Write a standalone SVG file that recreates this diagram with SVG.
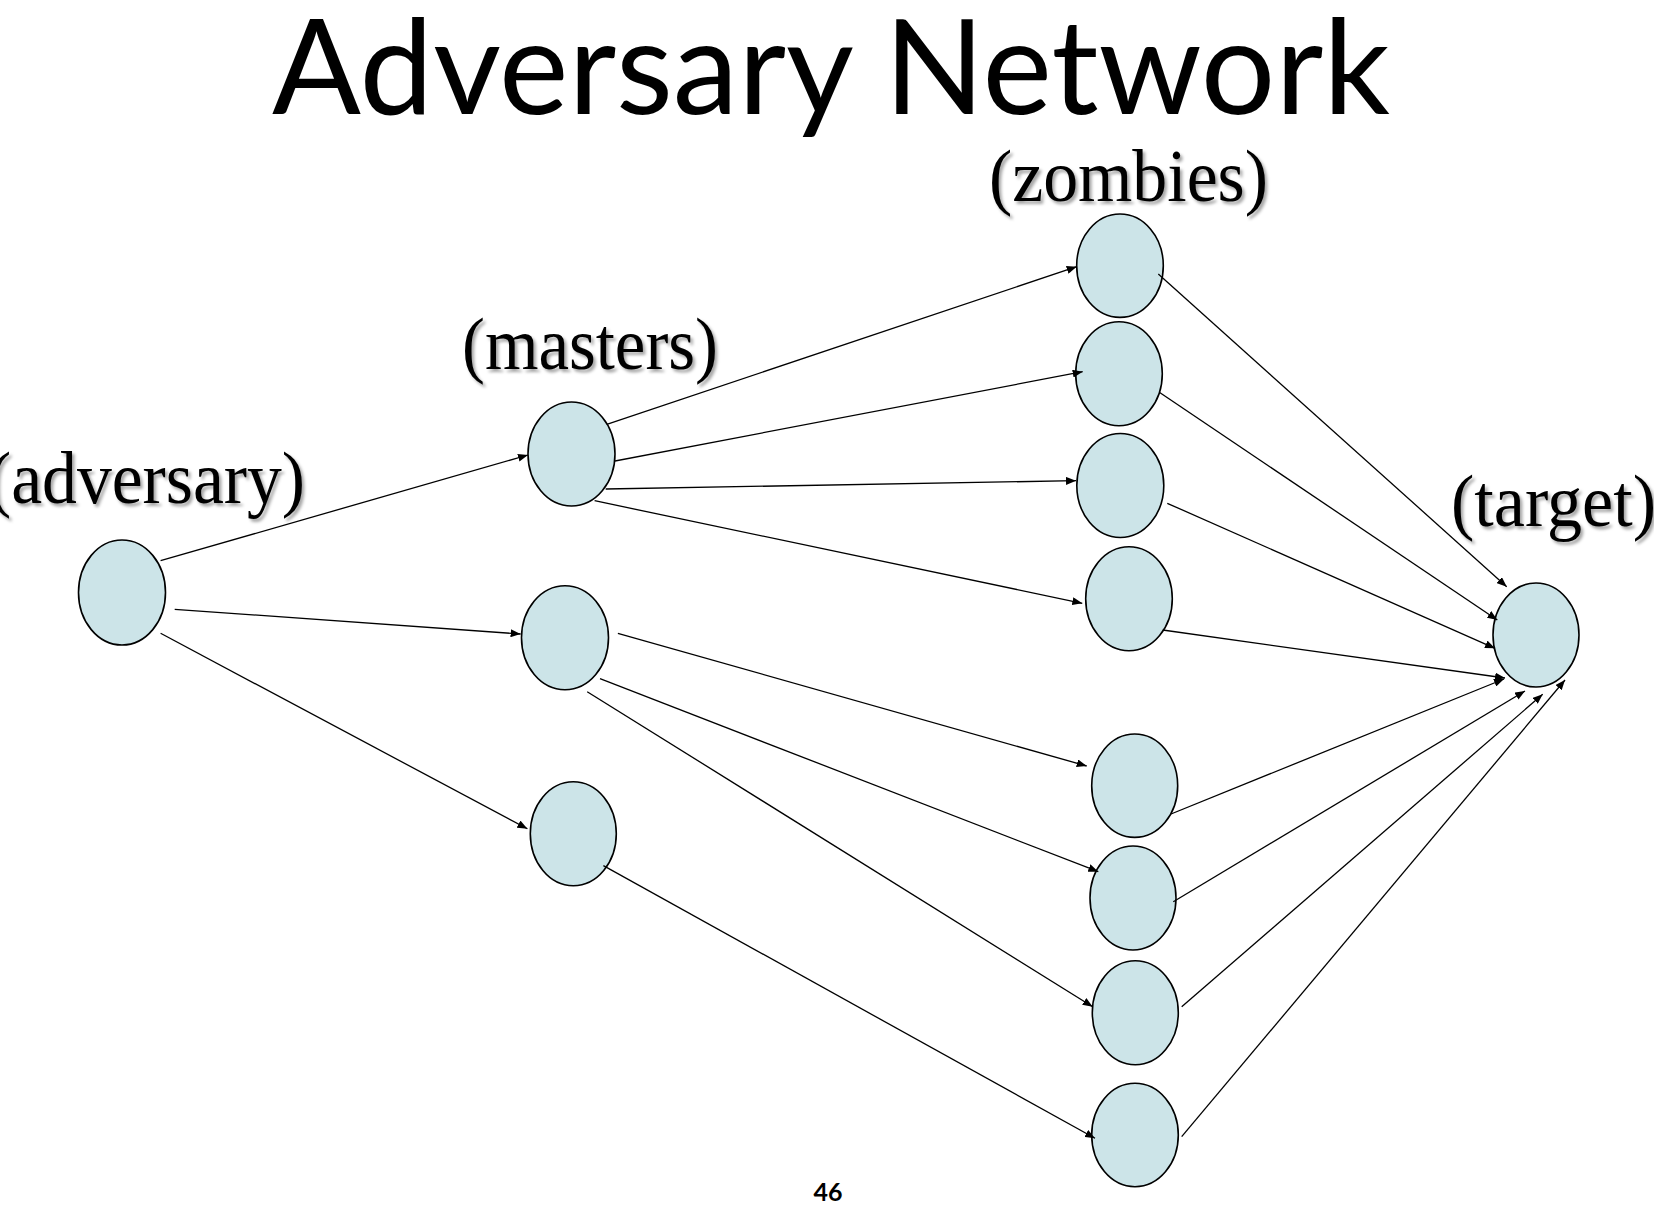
<svg xmlns="http://www.w3.org/2000/svg" width="1654" height="1208" viewBox="0 0 1654 1208">
  <defs>
    <style>
      .node { fill: #cce4e8; stroke: #000; stroke-width: 1.6; }
      .edge { stroke: #000; stroke-width: 1.3; fill: none; marker-end: url(#arrow); }
      .label { font-family: "Liberation Serif", "Times New Roman", serif; font-size: 75px; fill: #000; filter: url(#shadow); }
      .title { font-family: "Lato", "Open Sans", "Liberation Sans", sans-serif; font-size: 132px; fill: #000; }
      .pagenum { font-family: "Lato", "Liberation Sans", sans-serif; font-size: 25px; font-weight: bold; fill: #000; }
    </style>
    <filter id="shadow" x="-10%" y="-20%" width="130%" height="150%">
      <feDropShadow dx="2.5" dy="3" stdDeviation="1.6" flood-color="#000" flood-opacity="0.35"/>
    </filter>
    <marker id="arrow" viewBox="0 0 10 8" refX="10" refY="4" markerWidth="10" markerHeight="8" markerUnits="userSpaceOnUse" orient="auto">
      <path d="M0,0 L10,4 L0,8 Z" fill="#000"/>
    </marker>
  </defs>
  <rect width="1654" height="1208" fill="#fff"/>

  <text class="title" x="272" y="114" textLength="1118" lengthAdjust="spacingAndGlyphs">Adversary Network</text>

  <g id="label-zombies"><text class="label" x="989" y="201" textLength="279" lengthAdjust="spacingAndGlyphs">(zombies)</text></g>
  <g id="label-masters"><text class="label" x="462" y="369" textLength="256" lengthAdjust="spacingAndGlyphs">(masters)</text></g>
  <g id="label-adversary"><text class="label" x="-12" y="503" textLength="317" lengthAdjust="spacingAndGlyphs">(adversary)</text></g>
  <g id="label-target"><text class="label" x="1451" y="526" textLength="205" lengthAdjust="spacingAndGlyphs">(target)</text></g>

  <g id="node-adversary"><ellipse class="node" cx="122" cy="592.5" rx="43.5" ry="52.5"/></g>
  <g id="node-master1"><ellipse class="node" cx="571.5" cy="454" rx="43.5" ry="52"/></g>
  <g id="node-master2"><ellipse class="node" cx="565" cy="637.7" rx="43.5" ry="52"/></g>
  <g id="node-master3"><ellipse class="node" cx="573.3" cy="833.8" rx="43" ry="52"/></g>
  <g id="node-zombie1"><ellipse class="node" cx="1120" cy="265.7" rx="43.3" ry="51.7"/></g>
  <g id="node-zombie2"><ellipse class="node" cx="1119" cy="373.8" rx="43.3" ry="52"/></g>
  <g id="node-zombie3"><ellipse class="node" cx="1120.3" cy="485.5" rx="43.5" ry="52"/></g>
  <g id="node-zombie4"><ellipse class="node" cx="1129" cy="598.7" rx="43.3" ry="52"/></g>
  <g id="node-zombie5"><ellipse class="node" cx="1134.7" cy="785.7" rx="43" ry="51.7"/></g>
  <g id="node-zombie6"><ellipse class="node" cx="1133" cy="898" rx="43" ry="52"/></g>
  <g id="node-zombie7"><ellipse class="node" cx="1135.3" cy="1012.8" rx="43" ry="52"/></g>
  <g id="node-zombie8"><ellipse class="node" cx="1135" cy="1135" rx="43.3" ry="51.7"/></g>
  <g id="node-target"><ellipse class="node" cx="1536" cy="635" rx="43" ry="52"/></g>

  <g id="connectors">
    <line class="edge" x1="160.6" y1="560.7" x2="528" y2="455"/>
    <line class="edge" x1="174.7" y1="609.3" x2="520.6" y2="634"/>
    <line class="edge" x1="160.6" y1="633.3" x2="527.4" y2="828.8"/>
    <line class="edge" x1="606.8" y1="424.3" x2="1076.7" y2="266.7"/>
    <line class="edge" x1="615" y1="461" x2="1082.7" y2="371.7"/>
    <line class="edge" x1="605.7" y1="489" x2="1076" y2="480.7"/>
    <line class="edge" x1="594.6" y1="500.7" x2="1082.3" y2="603.3"/>
    <line class="edge" x1="617.9" y1="633.3" x2="1086.7" y2="766"/>
    <line class="edge" x1="600" y1="678.7" x2="1098.3" y2="871.7"/>
    <line class="edge" x1="587.2" y1="691.7" x2="1092.7" y2="1006.7"/>
    <line class="edge" x1="603.4" y1="865.6" x2="1095" y2="1138.3"/>
    <line class="edge" x1="1158.3" y1="274" x2="1506.7" y2="586.7"/>
    <line class="edge" x1="1159.3" y1="392.3" x2="1497.3" y2="620"/>
    <line class="edge" x1="1167.3" y1="503.3" x2="1495" y2="648.3"/>
    <line class="edge" x1="1162.7" y1="630" x2="1505" y2="678"/>
    <line class="edge" x1="1171" y1="814" x2="1504" y2="679"/>
    <line class="edge" x1="1173.3" y1="901.7" x2="1525" y2="691"/>
    <line class="edge" x1="1181.7" y1="1006.7" x2="1542.7" y2="694.3"/>
    <line class="edge" x1="1181.7" y1="1136.7" x2="1565" y2="680"/>
  </g>

  <text class="pagenum" x="828" y="1201" text-anchor="middle">46</text>
</svg>
